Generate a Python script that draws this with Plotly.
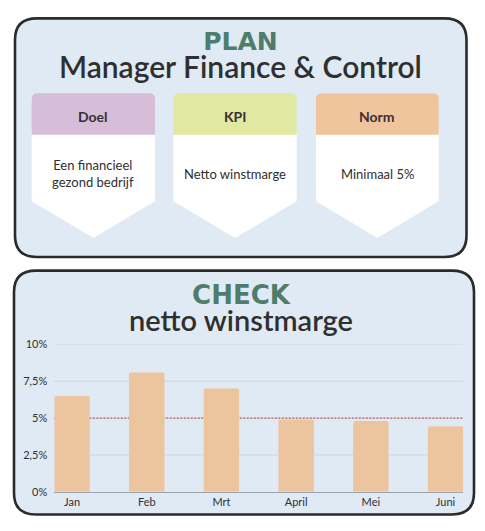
"""PLAN / CHECK dashboard: Manager Finance & Control, netto winstmarge."""

import plotly.graph_objects as go

# page body has an 8px margin, so the figure is drawn 8px in from the corner
OFF = 8
W, H = 485, 531

# --- data -----------------------------------------------------------------
months = ["Jan", "Feb", "Mrt", "April", "Mei", "Juni"]
margin_pct = [6.5, 8.1, 7.0, 4.9, 4.8, 4.45]
norm_pct = 5

y_tickvals = [0, 2.5, 5, 7.5, 10]
y_ticktext = ["0%", "2,5%", "5%", "7,5%", "10%"]

card_titles = ["Doel", "KPI", "Norm"]
card_texts = ["Een financieel<br>gezond bedrijf", "Netto winstmarge", "Minimaal 5%"]

# --- styling ----------------------------------------------------------------
PANEL_FILL = "#dfeaf4"
BORDER = "#2b2b2b"
GREEN = "#4f7d6b"
DARK = "#2f2f2f"
BAR = "#ecc59e"
GRID = "#c9d5df"
HEADER_COLOURS = ["#d6bdd8", "#e0e8a2", "#f0c59d"]
FONT = "Lato"


def p(x, y):
    """Screen pixel position -> paper coordinates."""
    return (x - OFF) / W, 1 - (y - OFF) / H


def path(points):
    """Build an SVG path from (cmd, x, y, ...) tuples given in screen pixels."""
    out = []
    for cmd, *coords in points:
        pairs = []
        for i in range(0, len(coords), 2):
            px_, py_ = p(coords[i], coords[i + 1])
            pairs.append(f"{px_:.5f},{py_:.5f}")
        out.append(cmd + " " + " ".join(pairs))
    return " ".join(out) + " Z"


def rounded_rect(x0, y0, x1, y1, r):
    return path([
        ("M", x0 + r, y0), ("L", x1 - r, y0), ("Q", x1, y0, x1, y0 + r),
        ("L", x1, y1 - r), ("Q", x1, y1, x1 - r, y1),
        ("L", x0 + r, y1), ("Q", x0, y1, x0, y1 - r),
        ("L", x0, y0 + r), ("Q", x0, y0, x0 + r, y0),
    ])


def label(x, y, text, size, colour, weight=400):
    ax, ay = p(x, y)
    return dict(
        x=ax, y=ay, xref="paper", yref="paper", xanchor="center", yanchor="middle",
        text=text, showarrow=False,
        font=dict(family=FONT, size=size, color=colour, weight=weight),
    )


def heading(kicker, title, kicker_size, title_size):
    """Two-line panel heading: green kicker above a dark title."""
    return (
        f'<span style="font-family:DejaVu Sans;font-weight:bold;font-size:{kicker_size}px;'
        f'color:{GREEN}">{kicker}</span><br>'
        f'<span style="font-size:{title_size}px">{title}</span>'
    )


shapes = []
annotations = []

# panels
for (x0, y0, x1, y1) in [(15, 11.5, 466.5, 256), (14, 270, 474, 520)]:
    shapes.append(dict(
        type="path", path=rounded_rect(x0, y0, x1, y1, 22), xref="paper", yref="paper",
        fillcolor=PANEL_FILL, line=dict(color=BORDER, width=2.6), layer="below",
    ))

# cards
card_x = [(31.7, 155), (173.3, 296.7), (316, 438.7)]
top, head_bot, side_bot, tip = 88.3, 130.7, 199, 236.7
for (x0, x1), colour, title, text in zip(card_x, HEADER_COLOURS, card_titles, card_texts):
    xm = (x0 + x1) / 2
    r = 6
    shapes.append(dict(
        type="path", xref="paper", yref="paper", layer="below", fillcolor="white",
        line=dict(width=0),
        path=path([("M", x0, head_bot - 1), ("L", x1, head_bot - 1), ("L", x1, side_bot),
                   ("L", xm, tip), ("L", x0, side_bot)]),
    ))
    shapes.append(dict(
        type="path", xref="paper", yref="paper", layer="below", fillcolor=colour,
        line=dict(width=0),
        path=path([("M", x0, head_bot), ("L", x0, top + r), ("Q", x0, top, x0 + r, top),
                   ("L", x1 - r, top), ("Q", x1, top, x1, top + r), ("L", x1, head_bot)]),
    ))
    annotations.append(label(xm, 112.5, title, 14, "#3a3035", 700))
    annotations.append(label(xm, 170.5, text, 13, DARK))

# headings (line spacing is 1.3 x the base font size)
annotations += [
    label(240.5, 50, heading("PLAN", "Manager Finance &amp; Control", 25, 30), 21.5, DARK, 600),
    label(241, 308.5, heading("CHECK", "netto winstmarge", 26, 29), 20.8, DARK, 600),
]

# chart gridlines, drawn as shapes so the norm line can sit on top of them
for v in y_tickvals[1:]:
    shapes.append(dict(
        type="line", xref="x domain", yref="y", x0=0, x1=1, y0=v, y1=v,
        layer="below", line=dict(color=GRID, width=1),
    ))

# norm line at 5%, under the bars
shapes.append(dict(
    type="line", xref="x domain", yref="y", x0=0, x1=1, y0=norm_pct, y1=norm_pct,
    layer="below", line=dict(color="#c4625c", width=1.4, dash="2px,1.5px"),
))

fig = go.Figure(
    go.Bar(
        x=months,
        y=margin_pct,
        width=0.475,
        marker=dict(color=BAR, line=dict(width=0), cornerradius=2),
        hovertemplate="%{x}: %{y}%<extra></extra>",
    )
)

x0d, _ = p(54.3, 0)
x1d, _ = p(463.3, 0)
_, y0d = p(0, 496.7)
_, y1d = p(0, 345.7)

fig.update_layout(
    width=W,
    height=H,
    margin=dict(l=0, r=0, t=0, b=0),
    paper_bgcolor="white",
    plot_bgcolor="rgba(0,0,0,0)",
    showlegend=False,
    shapes=shapes,
    annotations=annotations,
    font=dict(family=FONT, color=DARK),
    xaxis=dict(
        domain=[x0d, x1d],
        range=[-0.2375, 5.2375],
        showgrid=False,
        showline=True,
        linecolor="#9aa4ad",
        linewidth=1,
        ticks="",
        tickfont=dict(size=11, color=DARK),
        fixedrange=True,
    ),
    yaxis=dict(
        domain=[y0d, y1d],
        range=[0, 10],
        tickvals=y_tickvals,
        ticktext=y_ticktext,
        showgrid=False,
        zeroline=False,
        ticks="",
        ticklabelstandoff=6,
        tickfont=dict(size=11, color=DARK),
        fixedrange=True,
    ),
)

fig.write_html("out.html")
